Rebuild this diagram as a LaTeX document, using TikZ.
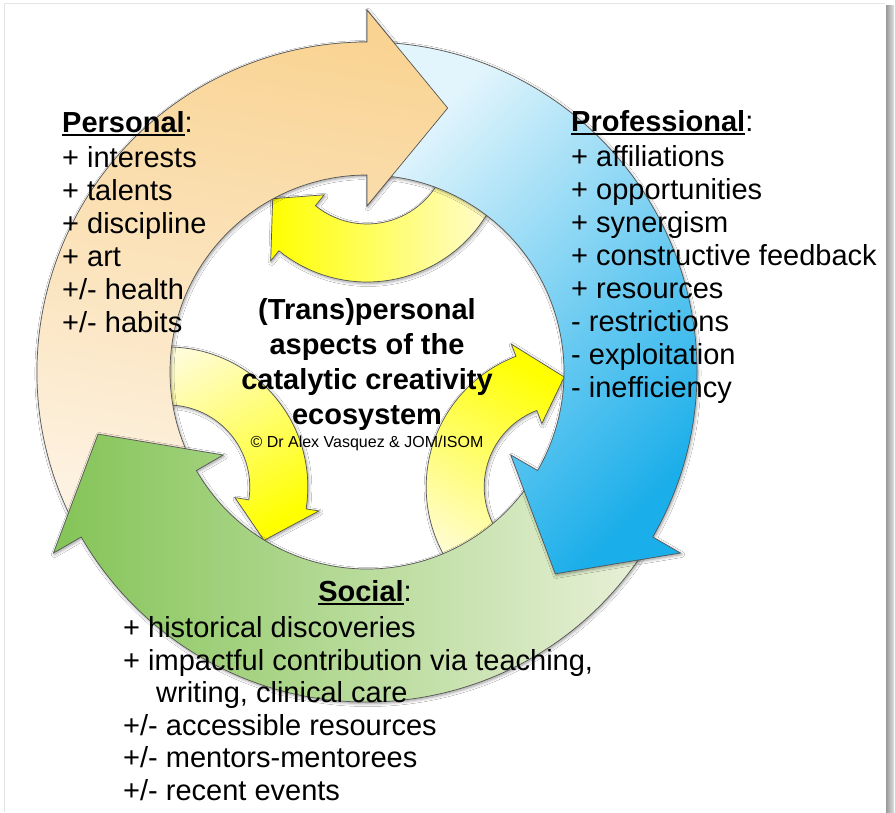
\documentclass[tikz,border=0pt]{standalone}
\usepackage{fontspec}
\setmainfont{Liberation Sans}
\usetikzlibrary{shadows.blur}

\definecolor{orangeD}{HTML}{F9D392}
\definecolor{orangeM}{HTML}{FADDAC}
\definecolor{orangeL}{HTML}{FDF2E2}
\definecolor{blueD}{HTML}{1AAEEA}
\definecolor{blueL}{HTML}{E2F5FC}
\definecolor{greenD}{HTML}{84C457}
\definecolor{greenL}{HTML}{E8F0D8}
\definecolor{yellowD}{HTML}{FFFF00}
\definecolor{yellowL}{HTML}{FFFCD8}
\definecolor{edge}{HTML}{555555}

% heading with a thick underline
\newcommand{\headul}[1]{\setbox0\hbox{\textbf{#1}}\rlap{\rule[-3pt]{\wd0}{1.8pt}}\box0}

% big ring arrow: #1 head angle, #2 tail angle, #3 style
\newcommand{\ringarrow}[3]{%
  \path[#3] (#2:330) arc[start angle=#2, end angle=#1, radius=330]
    -- (#1:362) -- ({#1-17}:276) -- (#1:166) -- (#1:197)
    arc[start angle=#1, end angle=#2, radius=197] -- cycle;}

% small inner arrow: #1 rotation
\newcommand{\innerarrow}[1]{%
  \begin{scope}[shift={({90+#1}:230)}]
    \path[innerbody, shading angle={90+#1}] ({-15+#1}:140)
      arc[start angle={-15+#1}, end angle={-129+#1}, radius=140]
      -- ({-129+#1}:153) -- ({-149+#1}:110) -- ({-129+#1}:68) -- ({-129+#1}:82)
      arc[start angle={-129+#1}, end angle={-15+#1}, radius=82] -- cycle;
  \end{scope}}

\tikzset{
  ringline/.style={draw=edge, line width=0.7pt},
  ringedge/.style={ringline,
    blur shadow={shadow blur steps=6, shadow xshift=1pt, shadow yshift=-1.5pt,
      shadow blur radius=3pt, shadow opacity=40}},
  orangefill/.style={top color=orangeD, middle color=orangeM, bottom color=orangeL, shading angle=-10},
  orangebody/.style={ringedge, orangefill},
  bluebody/.style={ringedge, top color=blueL, bottom color=blueD, shading angle=45},
  greenbody/.style={ringedge, top color=greenD, bottom color=greenL, shading angle=90},
  innerbody/.style={ringedge, top color=yellowD, bottom color=yellowL},
  listtext/.style={font=\fontsize{29}{33}\selectfont, inner sep=0pt, align=left},
}

\begin{document}
\begin{tikzpicture}[x=1pt, y=1pt]
  \useasboundingbox (0,0) rectangle (895,812);
  \fill[white] (0,0) rectangle (895,812);
  % frame
  \draw[black!10, line width=1pt] (4,0) -- (4,808) -- (885,808);
  \shade[left color=black!40, right color=black!12] (886,0) rectangle (894,806);

  \begin{scope}[shift={(367,440)}]
    % inner arrows (under the ring)
    \innerarrow{0}
    \innerarrow{120}
    \innerarrow{240}
    % ring arrows
    \ringarrow{90}{207}{orangebody}
    \ringarrow{210}{327}{greenbody}
    \ringarrow{-30}{87}{bluebody}
    % orange head again, over the blue tail
    \begin{scope}
      \clip (0,0) -- (92:400) arc[start angle=92, end angle=70, radius=400] -- cycle;
      \ringarrow{90}{207}{ringline, orangefill}
    \end{scope}
  \end{scope}

  % base anchor = baseline of the last line
  \node[listtext, anchor=base west] (personal) at (62,479)
    {\headul{Personal}:\\[2pt]
     + interests\\
     + talents\\
     + discipline\\
     + art\\
     +/- health\\
     +/- habits};
  \node[listtext, anchor=base west] (professional) at (571,414)
    {\headul{Professional}:\\[2pt]
     + affiliations\\
     + opportunities\\
     + synergism\\
     + constructive feedback\\
     + resources\\
     - restrictions\\
     - exploitation\\
     - inefficiency};
  \node[listtext, anchor=base] (social) at (365,210) {\headul{Social}:};
  \node[listtext, font=\fontsize{29}{32.5}\selectfont, anchor=base west] (socialitems) at (123,12)
    {+ historical discoveries\\
     + impactful contribution via teaching,\\
     \hspace*{33pt}writing, clinical care\\
     +/- accessible resources\\
     +/- mentors-mentorees\\
     +/- recent events};

  \node[font=\fontsize{29}{35}\selectfont\bfseries, align=center, inner sep=0pt, anchor=base]
    (title) at (367,387) {(Trans)personal\\aspects of the\\catalytic creativity\\ecosystem};
  \node[font=\fontsize{16}{19}\selectfont, inner sep=0pt, anchor=base]
    (copyright) at (367,364) {© Dr Alex Vasquez \& JOM/ISOM};
\end{tikzpicture}
\end{document}
